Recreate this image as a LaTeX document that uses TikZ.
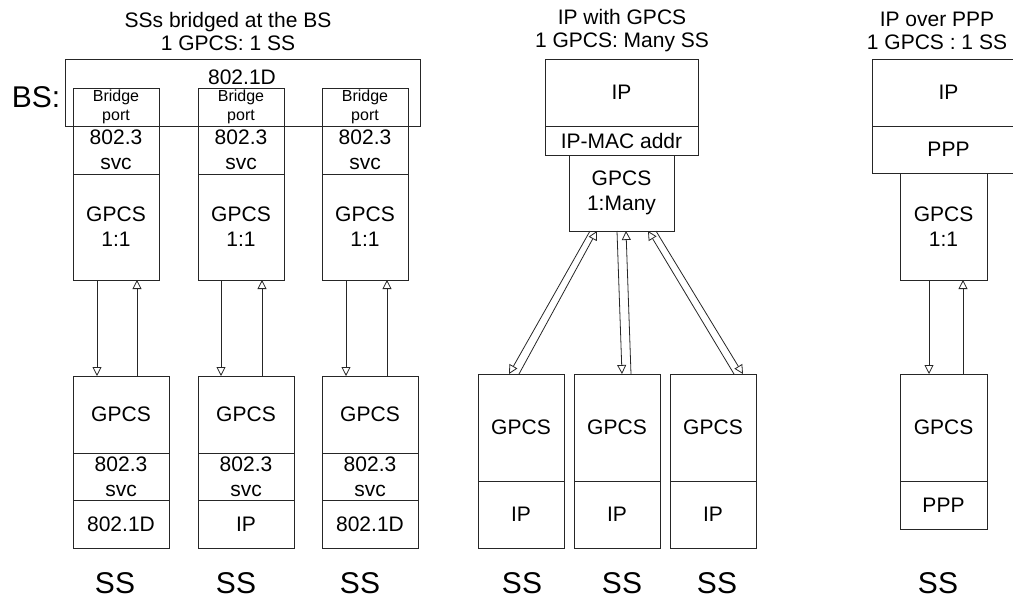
\documentclass[tikz,border=0pt]{standalone}
\usepackage{fontspec}
\setmainfont{Liberation Sans}
\usetikzlibrary{positioning, arrows.meta}
\tikzset{
x=1pt, y=-1pt, % pixel-like units, y grows downwards
>={Triangle[open, length=9pt, width=9pt]}, % hollow arrow heads
node distance=0pt, % stacked layers touch each other
layer/.style={draw=black!85, rectangle, inner sep=0pt, outer sep=0pt, align=center, anchor=north west, font=\fontsize{21}{25}\selectfont}, % one protocol layer
bsbox/.style={layer, minimum width=86pt}, % layers on the BS side
ssbox/.style={layer, minimum width=96pt}, % layers on the SS side
lbl/.style={font=\fontsize{30}{36}\selectfont}, % BS / SS labels
title/.style={align=center, font=\fontsize{21}{23}\selectfont}, % heading of each case
link/.style={->, draw=black!85, line width=0.8pt}, % GPCS connection
}

\begin{document}
\begin{tikzpicture}[line width=0.8pt]
\useasboundingbox (0,0) rectangle (1013,599);

% SSs bridged at the BS
\node[title] (t1) at (228,31) {SSs bridged at the BS\\1 GPCS: 1 SS};
\node[layer, minimum width=355pt, minimum height=67pt] (bs) at (65,59) {};
\node[font=\fontsize{21}{25}\selectfont] (bsname) at (242,77) {802.1D};
\node[lbl] (bslabel) at (36,97) {BS:};

\node[bsbox, minimum height=38pt, font=\fontsize{16}{19}\selectfont] (bp1) at (73,88) {Bridge\\port};
\node[bsbox, minimum height=48pt, below=of bp1] (sv1) {802.3\\svc};
\node[bsbox, minimum height=106pt, below=of sv1] (gu1) {GPCS\\1:1};
\node[bsbox, minimum height=38pt, font=\fontsize{16}{19}\selectfont] (bp2) at (198,88) {Bridge\\port};
\node[bsbox, minimum height=48pt, below=of bp2] (sv2) {802.3\\svc};
\node[bsbox, minimum height=106pt, below=of sv2] (gu2) {GPCS\\1:1};
\node[bsbox, minimum height=38pt, font=\fontsize{16}{19}\selectfont] (bp3) at (322,88) {Bridge\\port};
\node[bsbox, minimum height=48pt, below=of bp3] (sv3) {802.3\\svc};
\node[bsbox, minimum height=106pt, below=of sv3] (gu3) {GPCS\\1:1};

\node[ssbox, minimum height=77pt] (gl1) at (73,376) {GPCS};
\node[ssbox, minimum height=47pt, below=of gl1] (sl1) {802.3\\svc};
\node[ssbox, minimum height=48pt, below=of sl1] (bl1) {802.1D};
\node[ssbox, minimum height=77pt] (gl2) at (198,376) {GPCS};
\node[ssbox, minimum height=47pt, below=of gl2] (sl2) {802.3\\svc};
\node[ssbox, minimum height=48pt, below=of sl2] (bl2) {IP};
\node[ssbox, minimum height=77pt] (gl3) at (322,376) {GPCS};
\node[ssbox, minimum height=47pt, below=of gl3] (sl3) {802.3\\svc};
\node[ssbox, minimum height=48pt, below=of sl3] (bl3) {802.1D};

\node[lbl] (ss1) at (115,583) {SS};
\node[lbl] (ss2) at (236,583) {SS};
\node[lbl] (ss3) at (360,583) {SS};

\draw[link] ([xshift=-19pt]gu1.south) -- ([xshift=-19pt]gu1.south |- gl1.north);
\draw[link] ([xshift=21pt]gu1.south |- gl1.north) -- ([xshift=21pt]gu1.south);
\draw[link] ([xshift=-20pt]gu2.south) -- ([xshift=-20pt]gu2.south |- gl2.north);
\draw[link] ([xshift=21pt]gu2.south |- gl2.north) -- ([xshift=21pt]gu2.south);
\draw[link] ([xshift=-19pt]gu3.south) -- ([xshift=-19pt]gu3.south |- gl3.north);
\draw[link] ([xshift=22pt]gu3.south |- gl3.north) -- ([xshift=22pt]gu3.south);

% IP with GPCS
\node[title] (t2) at (622,31) {IP with GPCS\\1 GPCS: Many SS};
\node[layer, minimum width=153pt, minimum height=67pt] (ip) at (545,59) {IP};
\node[layer, minimum width=153pt, minimum height=29pt, below=of ip] (mac) {IP-MAC addr};
\node[layer, minimum width=105pt, minimum height=76pt, below=of mac] (gm) {GPCS\\1:Many};

\node[bsbox, minimum height=107pt] (gs1) at (478,374) {GPCS};
\node[bsbox, minimum height=67pt, below=of gs1] (is1) {IP};
\node[bsbox, minimum height=107pt] (gs2) at (574,374) {GPCS};
\node[bsbox, minimum height=67pt, below=of gs2] (is2) {IP};
\node[bsbox, minimum height=107pt] (gs3) at (670,374) {GPCS};
\node[bsbox, minimum height=67pt, below=of gs3] (is3) {IP};

\node[lbl] (ss4) at (522,583) {SS};
\node[lbl] (ss5) at (622,583) {SS};
\node[lbl] (ss6) at (717,583) {SS};

\draw[link] ([xshift=-31.5pt]gm.south) -- ([xshift=-12pt]gs1.north);
\draw[link] ([xshift=-2pt]gs1.north) -- ([xshift=-24.5pt]gm.south);
\draw[link] ([xshift=-4.5pt]gm.south) -- ([xshift=5pt]gs2.north);
\draw[link] ([xshift=14pt]gs2.north) -- ([xshift=4.5pt]gm.south);
\draw[link] ([xshift=21pt]gs3.north) -- ([xshift=26.5pt]gm.south);
\draw[link] ([xshift=34.5pt]gm.south) -- ([xshift=30pt]gs3.north);

% IP over PPP
\node[title] (t3) at (937,31) {IP over PPP\\1 GPCS : 1 SS};
\node[layer, minimum width=153pt, minimum height=67pt] (ipr) at (872,59) {IP};
\node[layer, minimum width=153pt, minimum height=47pt, below=of ipr] (ppp) {PPP};
\node[layer, minimum width=87pt, minimum height=107pt] (gr) at (900,173) {GPCS\\1:1};

\node[layer, minimum width=87pt, minimum height=107pt] (grs) at (900,374) {GPCS};
\node[layer, minimum width=87pt, minimum height=48pt, below=of grs] (pps) {PPP};
\node[lbl] (ss7) at (938,583) {SS};

\draw[link] ([xshift=-14.5pt]gr.south) -- ([xshift=-14.5pt]gr.south |- grs.north);
\draw[link] ([xshift=19.5pt]gr.south |- grs.north) -- ([xshift=19.5pt]gr.south);
\end{tikzpicture}
\end{document}
